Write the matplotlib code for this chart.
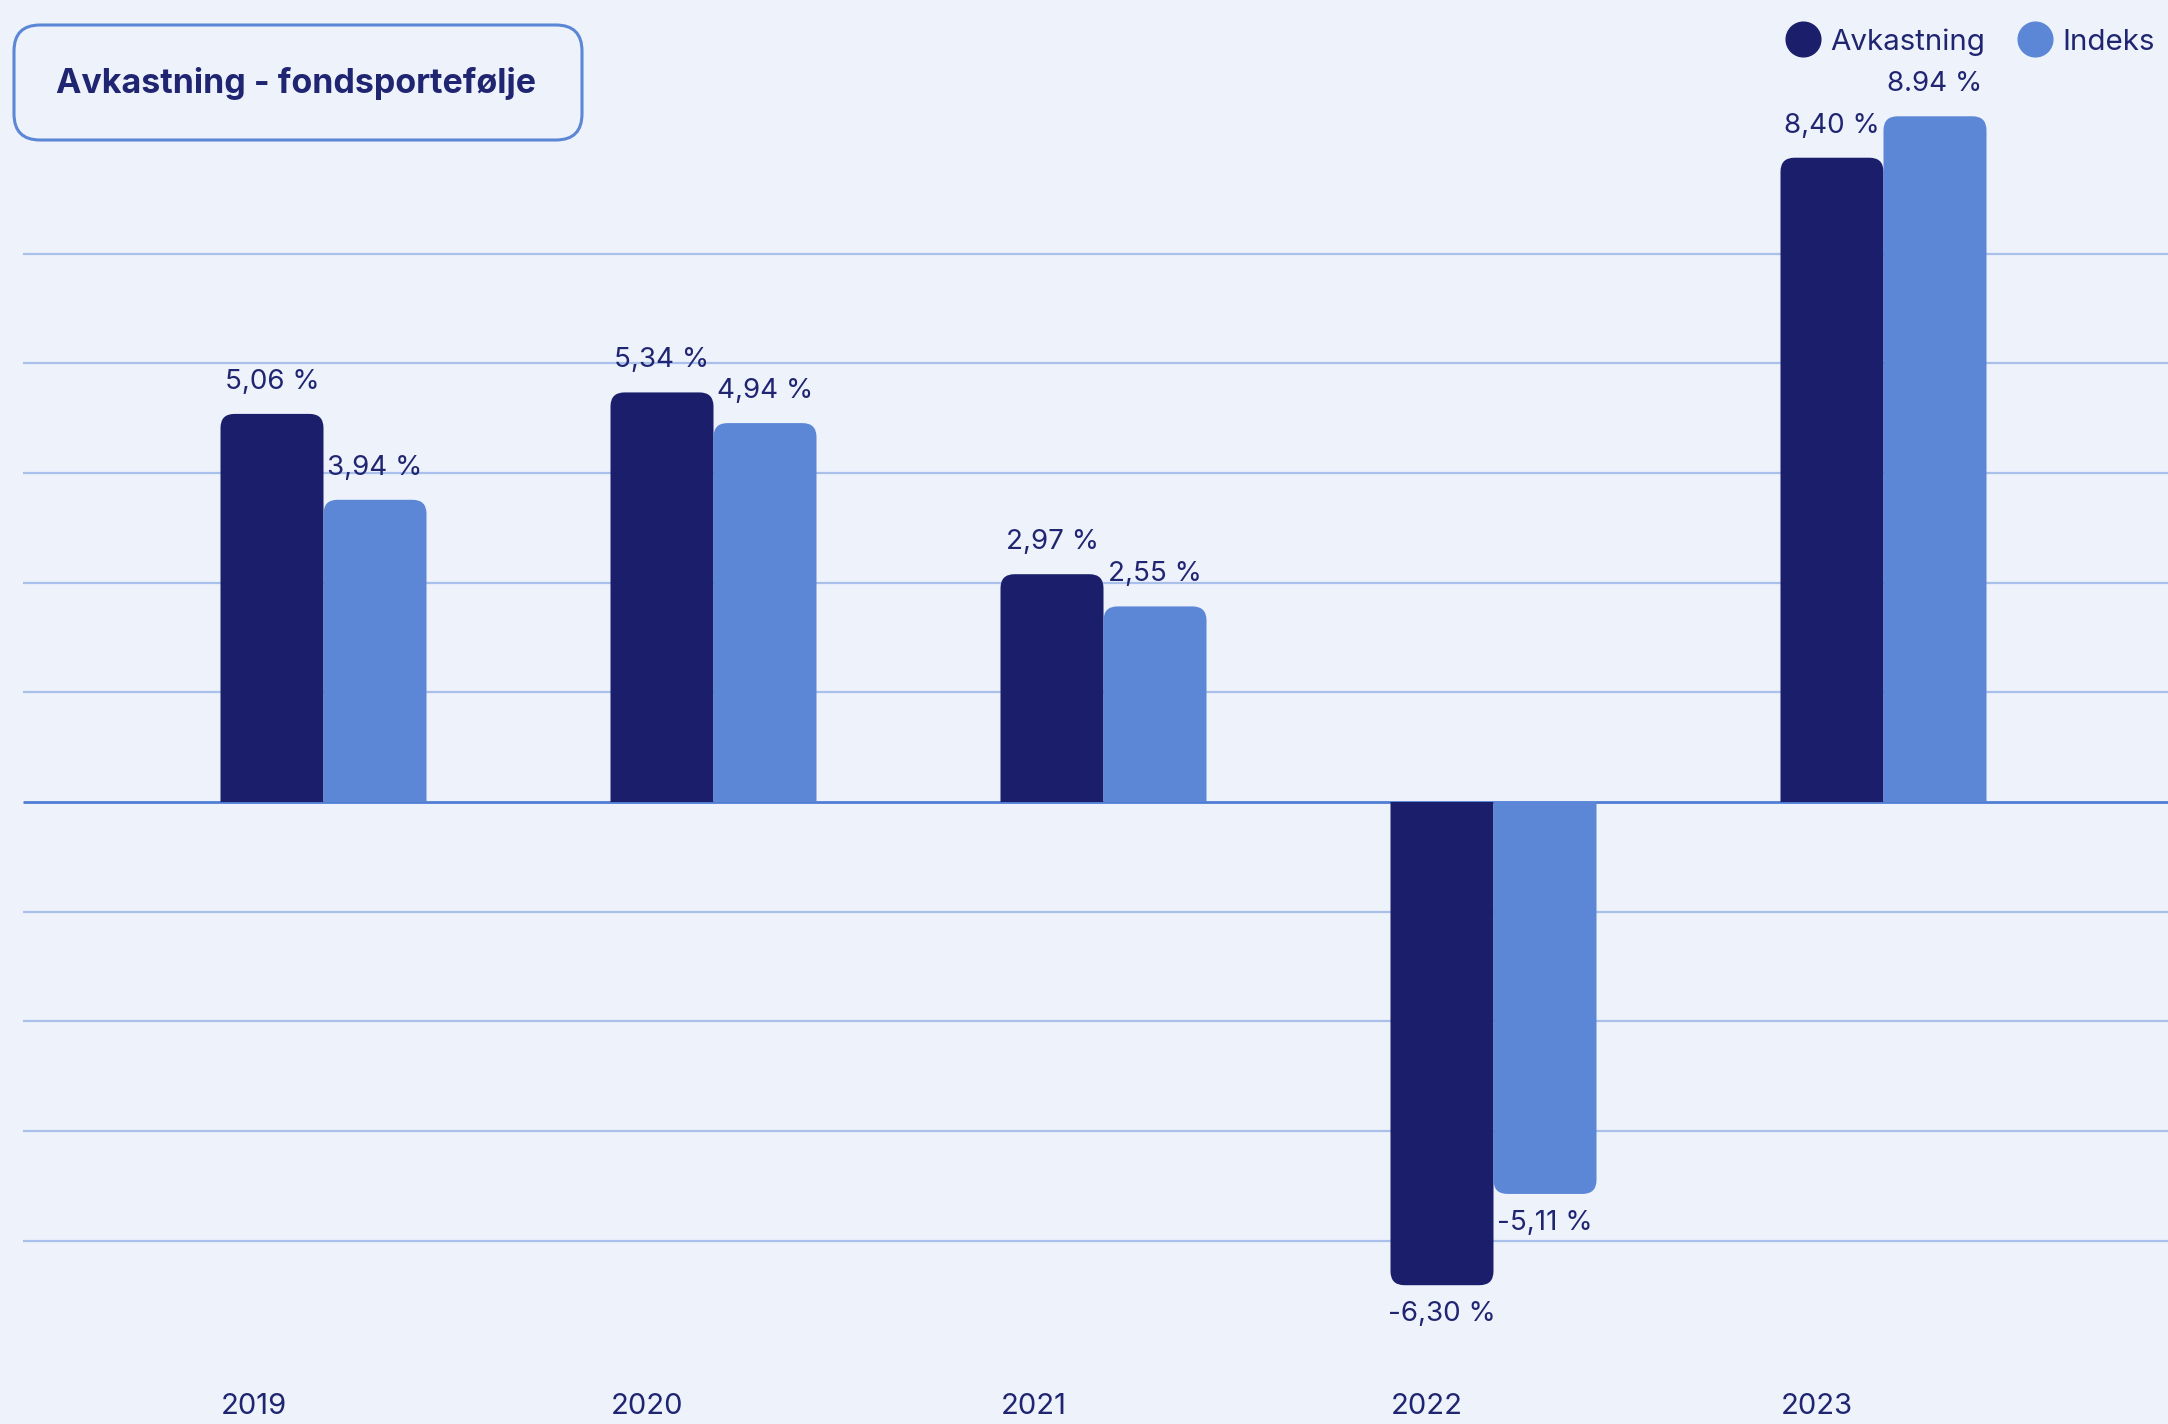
import numpy as np
import matplotlib.pyplot as plt
from matplotlib.path import Path
from matplotlib.patches import PathPatch, FancyBboxPatch
from matplotlib.lines import Line2D

plt.rcParams['font.family'] = ['Inter', 'DejaVu Sans']

years = ['2019', '2020', '2021', '2022', '2023']
avkastning = [5.06, 5.34, 2.97, -6.30, 8.40]
indeks = [3.94, 4.94, 2.55, -5.11, 8.94]
avk_labels = ['5,06 %', '5,34 %', '2,97 %', '-6,30 %', '8,40 %']
idx_labels = ['3,94 %', '4,94 %', '2,55 %', '-5,11 %', '8.94 %']

dark = '#1b1f6b'
light = '#5b87d6'
bg = '#eef2fb'
grid_c = '#a9c0ea'
txt = '#1f2570'

W, H = 2168, 1424
fig = plt.figure(figsize=(W / 100, H / 100), dpi=100, facecolor=bg)
ax = fig.add_axes([0, 0, 1, 1])
ax.set_facecolor(bg)
ax.axis('off')

# scale: 390 px per group, 76.7 px per percent, zero at y=802 px
px_x, px_y, y0 = 390, 76.7, 802
x0 = 323.5
ax.set_xlim(-x0 / px_x, (W - x0) / px_x)
ax.set_ylim(-(H - y0) / px_y, y0 / px_y)

# grid lines
step = 1.43
gx0 = (23 - x0) / px_x
gx1 = (W - x0) / px_x
for k in list(range(-4, 0)) + list(range(1, 6)):
    ax.hlines(k * step, gx0, gx1, color=grid_c, lw=1.6, zorder=1)
ax.hlines(0, gx0, gx1, color='#4f7dd3', lw=2, zorder=1)

bw = 103 / px_x
rx, ry = 14 / px_x, 14 / px_y


def rounded_bar(xl, w, h, color):
    s = np.sign(h)
    r = min(ry, abs(h))
    verts = [(xl, 0), (xl, h - s * r), (xl, h), (xl + rx, h),
             (xl + w - rx, h), (xl + w, h), (xl + w, h - s * r),
             (xl + w, 0), (xl, 0)]
    codes = [Path.MOVETO, Path.LINETO, Path.CURVE3, Path.CURVE3,
             Path.LINETO, Path.CURVE3, Path.CURVE3, Path.LINETO, Path.CLOSEPOLY]
    ax.add_patch(PathPatch(Path(verts, codes), facecolor=color,
                           edgecolor='none', zorder=2))


for i, yr in enumerate(years):
    for j, (vals, labs, col) in enumerate([(avkastning, avk_labels, dark),
                                           (indeks, idx_labels, light)]):
        xl = i - bw + j * bw
        v = vals[i]
        rounded_bar(xl, bw, v, col)
        off = 23 if v > 0 else -21
        ax.annotate(labs[i], (xl + bw / 2, v), xytext=(0, off),
                    textcoords='offset points', ha='center', va='center',
                    fontsize=20, color=txt)
    ax.text(i - bw, (y0 - 1407) / px_y, yr, ha='left', va='center',
            fontsize=21, color=txt)

# title box
box = FancyBboxPatch((14 / W, 1 - 140 / H), 568 / W, 115 / H,
                     boxstyle='round,pad=0,rounding_size=0.012',
                     transform=fig.transFigure, facecolor=bg,
                     edgecolor=light, lw=2.2, mutation_aspect=W / H)
fig.patches.append(box)
fig.text(296 / W, 1 - 83 / H, 'Avkastning - fondsportefølje', ha='center',
         va='center', fontsize=24.5, fontweight='bold', color=txt)

# legend
handles = [Line2D([], [], marker='o', ls='', ms=25, color=dark, label='Avkastning'),
           Line2D([], [], marker='o', ls='', ms=25, color=light, label='Indeks')]
leg = fig.legend(handles=handles, loc='upper right', bbox_to_anchor=(1.006, 0.999),
                 ncol=2, frameon=False, fontsize=21.3, labelcolor=txt,
                 handletextpad=0.3, columnspacing=1.1, handlelength=1.2)

fig.savefig('out.png', dpi=100, facecolor=bg)
